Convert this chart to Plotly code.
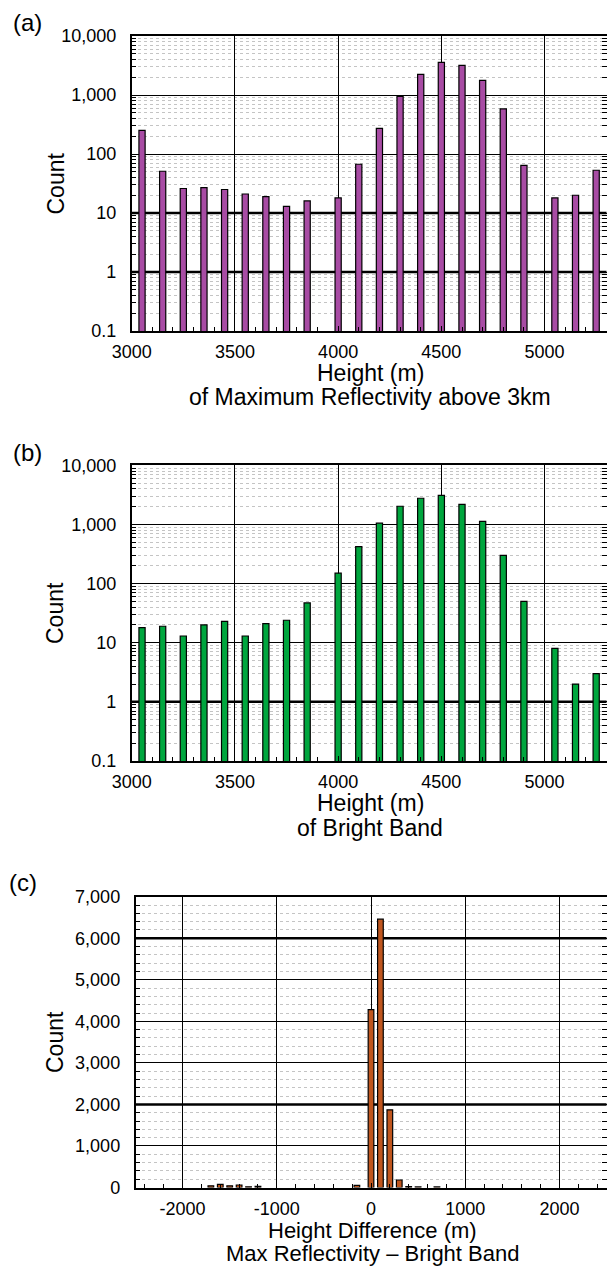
import plotly.graph_objects as go

# ---------------- data ----------------
heights_ab = [3050, 3150, 3250, 3350, 3450, 3550, 3650, 3750, 3850, 4000, 4100,
              4200, 4300, 4400, 4500, 4600, 4700, 4800, 4900, 5050, 5150, 5250]
count_maxrefl = [252, 51, 26, 27, 25, 21, 19, 13, 16, 18, 67,
                 272, 950, 2240, 3580, 3190, 1770, 580, 64, 18, 20, 53]
count_brightband = [18, 19, 13, 20, 23, 13, 21, 24, 47, 150, 420,
                    1050, 2030, 2770, 3110, 2190, 1130, 300, 50, 8, 2, 3]
height_diff = [-1700, -1600, -1500, -1400, -1300, -1200, -150, 0, 100, 200, 300, 400, 500, 700]
count_diff = [40, 75, 40, 60, 16, 25, 50, 4280, 6460, 1870, 180, 20, 15, 15]

log_tickvals = [0.1, 1, 10, 100, 1000, 10000]
log_ticktext = ["0.1", "1", "10", "100", "1,000", "10,000"]
lin_tickvals = [0, 1000, 2000, 3000, 4000, 5000, 6000, 7000]
lin_ticktext = ["0", "1,000", "2,000", "3,000", "4,000", "5,000", "6,000", "7,000"]
ab_xtickvals = [3000, 3500, 4000, 4500, 5000]
ab_xticktext = ["3000", "3500", "4000", "4500", "5000"]
c_xtickvals = [-2000, -1000, 0, 1000, 2000]
c_xticktext = ["-2000", "-1000", "0", "1000", "2000"]

W, H = 607, 1266
FONT = "Liberation Sans, Arial, Helvetica, sans-serif"

minor_log = [k * 10 ** e for e in range(-1, 4) for k in range(2, 10)]

def py(px):
    return 1 - px / H

fig = go.Figure()
fig.add_trace(go.Bar(x=heights_ab, y=count_maxrefl, width=30, xaxis="x", yaxis="y",
                     marker=dict(color="#A84CA4", line=dict(color="black", width=1.2))))
fig.add_trace(go.Bar(x=heights_ab, y=count_brightband, width=30, xaxis="x2", yaxis="y2",
                     marker=dict(color="#00A63E", line=dict(color="black", width=1.2))))
fig.add_trace(go.Bar(x=height_diff, y=count_diff, width=60, xaxis="x3", yaxis="y3",
                     marker=dict(color="#C0561E", line=dict(color="black", width=1.2))))

xab = [131.7 / W, 606.5 / W]
xc = [135.5 / W, 606.5 / W]
doms = [(36, 331), (465.3, 761), (896.7, 1187.5)]

common_x = dict(showline=True, linecolor="black", linewidth=1.5, mirror=True,
                ticks="inside", ticklen=5, tickcolor="black", automargin=False,
                showgrid=True, gridcolor="black", gridwidth=1, zeroline=False,
                tickfont=dict(family=FONT, size=18, color="black"), ticklabelstandoff=4)
common_y = dict(showline=True, linecolor="black", linewidth=1.5, mirror="ticks",
                ticks="inside", ticklen=5, tickcolor="black", automargin=False,
                showgrid=True, gridcolor="black", gridwidth=1, zeroline=False,
                tickfont=dict(family=FONT, size=18, color="black"), ticklabelstandoff=10)

layout = dict(width=W, height=H, margin=dict(l=0, r=0, t=0, b=0, autoexpand=False),
              paper_bgcolor="white", plot_bgcolor="white", showlegend=False,
              font=dict(family=FONT, color="black"))

for i, (suffix, xd) in enumerate([("", xab), ("2", xab), ("3", xc)]):
    t, b = doms[i]
    xa = dict(common_x, domain=xd, anchor="y" + suffix)
    ya = dict(common_y, domain=[py(b), py(t)], anchor="x" + suffix)
    if i < 2:
        xa.update(range=[3000, 5300], tickvals=ab_xtickvals, ticktext=ab_xticktext,
                  minor=dict(dtick=100, tick0=3000, ticks="inside", ticklen=4,
                             tickcolor="black", showgrid=False))
        ya.update(type="log", range=[-1, 4], tickvals=log_tickvals, ticktext=log_ticktext,
                  minor=dict(tickvals=minor_log, ticks="inside", ticklen=5, tickcolor="black",
                             showgrid=True, gridcolor="#c4c4c4", griddash="dot", gridwidth=1))
    else:
        xa.update(range=[-2500, 2500], tickvals=c_xtickvals, ticktext=c_xticktext,
                  minor=dict(dtick=200, tick0=0, ticks="inside", ticklen=4,
                             tickcolor="black", showgrid=False))
        ya.update(range=[0, 7000], tickvals=lin_tickvals, ticktext=lin_ticktext,
                  minor=dict(dtick=200, tick0=0, ticks="inside", ticklen=5, tickcolor="black",
                             showgrid=True, gridcolor="#c4c4c4", griddash="dot", gridwidth=1))
    layout["xaxis" + suffix] = xa
    layout["yaxis" + suffix] = ya

fig.update_layout(**layout)

# emphasised grid lines (as in the original rendering)
thick = [("x", "y", 10), ("x", "y", 1), ("x2", "y2", 1), ("x3", "y3", 6000), ("x3", "y3", 2000)]
for xr, yr, v in thick:
    fig.add_shape(type="line", xref=xr + " domain", yref=yr, x0=0, x1=1, y0=v, y1=v,
                  line=dict(color="black", width=2.5), layer="below")

def ann(text, x, y, size=23, angle=0, xanchor="center"):
    fig.add_annotation(text=text, x=x / W, y=py(y), xref="paper", yref="paper",
                       showarrow=False, xanchor=xanchor, yanchor="middle", textangle=angle,
                       borderpad=0, font=dict(family=FONT, size=size, color="black"))

# panel labels
ann("(a)", 12, 22, size=24, xanchor="left")
ann("(b)", 12, 452, size=24, xanchor="left")
ann("(c)", 8, 882, size=24, xanchor="left")
# axis titles
ann("Count", 55, 183.5, angle=-90)
ann("Count", 55, 613, angle=-90)
ann("Count", 55, 1042, angle=-90)
ann("Height (m)", 370, 373)
ann("of Maximum Reflectivity above 3km", 370, 397)
ann("Height (m)", 370, 803)
ann("of Bright Band", 370, 828)
ann("Height Difference (m)", 372, 1230, size=22)
ann("Max Reflectivity \u2013 Bright Band", 372, 1253, size=22)

fig.write_html("out.html")
